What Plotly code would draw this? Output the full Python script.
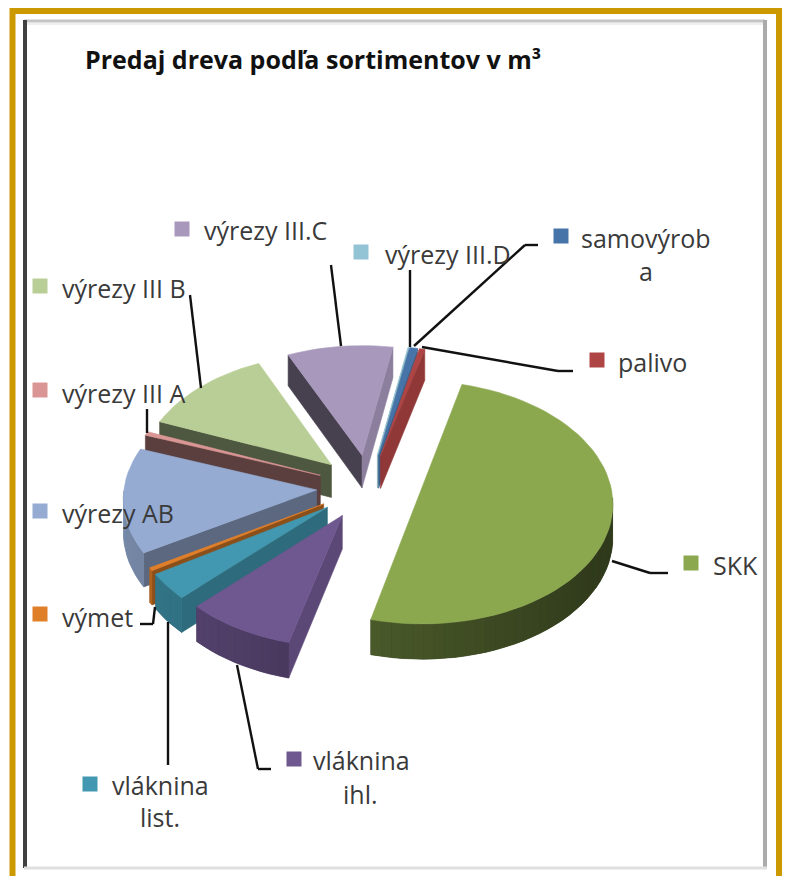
import math
import plotly.graph_objects as go

# ---- data (share of volume, %) ----
categories = ["SKK", "vláknina ihl.", "vláknina list.", "výmet", "výrezy AB", "výrezy III A",
              "výrezy III B", "výrezy III.C", "výrezy III.D", "samovýroba", "palivo"]
values = [50.0, 8.5, 3.6, 0.4, 14.1, 0.5, 12.1, 9.5, 0.1, 0.7, 0.5]
colors = ["#8BA84F", "#6F5790", "#4198B0", "#E07F2A", "#95ABD2", "#D99694",
          "#B9CE96", "#A898BC", "#92C4D5", "#4674A8", "#AE4443"]
wall_scale = [0.82, 1, 1, 1, 1, 1, 1, 1, 1, 1, 1]
title_text = "Predaj dreva podľa sortimentov v m³"
label_lines = [["SKK"], ["vláknina", "ihl."], ["vláknina", "list."], ["výmet"], ["výrezy AB"],
               ["výrezy III A"], ["výrezy III B"], ["výrezy III.C"], ["výrezy III.D"],
               ["samovýrob", "a"], ["palivo"]]

# ---- layout of the drawing (style, not data) ----
W, H = 787, 876
CX, CY, RX, RY = 368.5, 487, 192.5, 120
EXPLODE, DEPTH, PERSP, START = 0.27, 33, 0.06, 75.5
FONT = "Open Sans"
TXT = "#3a3a3a"
square_pos = [(691, 563), (294, 759), (90, 784), (40, 614), (40, 511), (40, 390),
              (40, 286), (182, 229), (361, 252), (561, 236), (597, 360)]
label_pos = [[(711, 565, "l")], [(311, 760, "l"), (360, 794, "c")], [(110, 785, "l"), (160, 817, "c")],
             [(60, 617, "l")], [(60, 513, "l")], [(60, 393, "l")], [(60, 288, "l")],
             [(202, 230, "l")], [(383, 254, "l")], [(579, 238, "l"), (646, 271, "c")], [(616, 362, "l")]]
leaders = [[(612, 561), (650, 573), (668, 573)], [(237, 665), (258, 769), (271, 769)],
           [(168, 622), (168, 765)], [(140, 624), (153, 624), (155, 607)],
           [(147, 409), (147, 433)], [(190, 295), (201, 388)], [(331, 265), (341, 346)],
           [(410, 270), (410, 347)], [(538, 245), (525, 245), (414, 346)],
           [(573, 371), (558, 371), (422, 347)]]


def shade(hex_color, f):
    r, g, b = (int(hex_color[i:i + 2], 16) for i in (1, 3, 5))
    return f"rgb({round(r * f)},{round(g * f)},{round(b * f)})"


def project(u, v, drop=0.0):
    p = 1.0 / (1.0 - PERSP * v)
    return CX + RX * u * p, CY + RY * v * p + DEPTH * p * drop


def plane(t_deg, radius, off):
    t = math.radians(t_deg)
    return off[0] + radius * math.cos(t), off[1] - radius * math.sin(t)


fig = go.Figure()


def poly(points, color, lw=0.6):
    xs = [p[0] for p in points] + [points[0][0]]
    ys = [p[1] for p in points] + [points[0][1]]
    fig.add_trace(go.Scatter(x=xs, y=ys, mode="lines", fill="toself", fillcolor=color,
                             line=dict(color=color, width=lw), hoverinfo="skip", showlegend=False))


total = sum(values)
slices = []
ang = START
for name, val, col, ws in zip(categories, values, colors, wall_scale):
    span = 360.0 * val / total
    hi, lo = ang, ang - span
    mid = (hi + lo) / 2
    off = (EXPLODE * math.cos(math.radians(mid)), -EXPLODE * math.sin(math.radians(mid)))
    slices.append(dict(hi=hi, lo=lo, mid=mid, off=off, col=col, ws=ws))
    ang = lo

slices.sort(key=lambda s: s["off"][1])

for s in slices:
    hi, lo, off, col, ws = s["hi"], s["lo"], s["off"], s["col"], s["ws"]
    n = max(2, int((hi - lo) / 3) + 1)
    arc = [hi + (lo - hi) * i / n for i in range(n + 1)]
    # radial walls
    for edge, normal in ((hi, hi + 90), (lo, lo - 90)):
        ny = -math.sin(math.radians(normal))
        if ny > 0:
            nx = math.cos(math.radians(normal))
            f = 0.42 if nx < 0 else 0.37 + 0.47 * nx
            a = plane(edge, 1, off)
            pts = [project(off[0], off[1]), project(*a), project(*a, 1), project(off[0], off[1], 1)]
            poly(pts, shade(col, f))
    # outer wall: a solid backing, then small shaded steps without outlines
    front = [t for t in arc if math.sin(math.radians(t)) <= 0.02]
    if len(front) >= 2:
        tops = [project(*plane(t, 1, off)) for t in front]
        bots = [project(*plane(t, 1, off), 1) for t in front]
        tm = front[len(front) // 2]
        poly(tops + bots[::-1], shade(col, ws * (0.6 - 0.2 * math.cos(math.radians(tm)))))
    for t0, t1 in zip(arc[:-1], arc[1:]):
        tm = (t0 + t1) / 2
        if math.sin(math.radians(tm)) < 0:
            f = ws * (0.6 - 0.2 * math.cos(math.radians(tm)))
            a, b = plane(t0, 1, off), plane(t1, 1, off)
            poly([project(*a), project(*b), project(*b, 1), project(*a, 1)], shade(col, f), lw=0)
    # top face
    poly([project(off[0], off[1])] + [project(*plane(t, 1, off)) for t in arc], col)

# frame
shapes = [
    dict(type="rect", x0=12.5, y0=11, x1=779, y1=H + 10, line=dict(color="#CC9900", width=6), fillcolor="white", layer="below"),
    dict(type="line", x0=24, y0=21, x1=765, y1=21, line=dict(color="#C4C4C4", width=3), layer="below"),
    dict(type="line", x0=24, y0=24, x1=765, y1=24, line=dict(color="#EFEFEF", width=2), layer="below"),
    dict(type="line", x0=25, y0=20, x1=25, y1=868, line=dict(color="#404040", width=4), layer="below"),
    dict(type="line", x0=765, y0=20, x1=765, y1=868, line=dict(color="#ABABAB", width=4), layer="below"),
    dict(type="line", x0=24, y0=868, x1=767, y1=868, line=dict(color="#E0E0E0", width=3), layer="below"),
]
for pts in leaders:
    for (x0, y0), (x1, y1) in zip(pts[:-1], pts[1:]):
        shapes.append(dict(type="line", x0=x0, y0=y0, x1=x1, y1=y1, line=dict(color="#111111", width=2.4)))
for (x, y), col in zip(square_pos, colors):
    shapes.append(dict(type="rect", x0=x - 7.5, y0=y - 7.5, x1=x + 7.5, y1=y + 7.5, fillcolor=col, line=dict(width=0)))

annotations = [dict(x=83, y=59, text=f"<b>{title_text}</b>", showarrow=False, xanchor="left", yanchor="middle",
                    font=dict(family=FONT, size=25, color="#111111"))]
for lines, poss in zip(label_lines, label_pos):
    for text, (x, y, anchor) in zip(lines, poss):
        annotations.append(dict(x=x, y=y, text=text, showarrow=False, yanchor="middle",
                                xanchor="left" if anchor == "l" else "center",
                                font=dict(family=FONT, size=25, color=TXT)))

fig.update_layout(
    width=W, height=H, margin=dict(l=0, r=0, t=0, b=0),
    paper_bgcolor="white", plot_bgcolor="white", showlegend=False,
    xaxis=dict(range=[0, W], visible=False, fixedrange=True),
    yaxis=dict(range=[H, 0], visible=False, fixedrange=True),
    shapes=shapes, annotations=annotations,
)
fig.write_html("out.html", config={"displayModeBar": False},
               post_script="document.body.style.margin='0';document.body.style.overflow='hidden';")
